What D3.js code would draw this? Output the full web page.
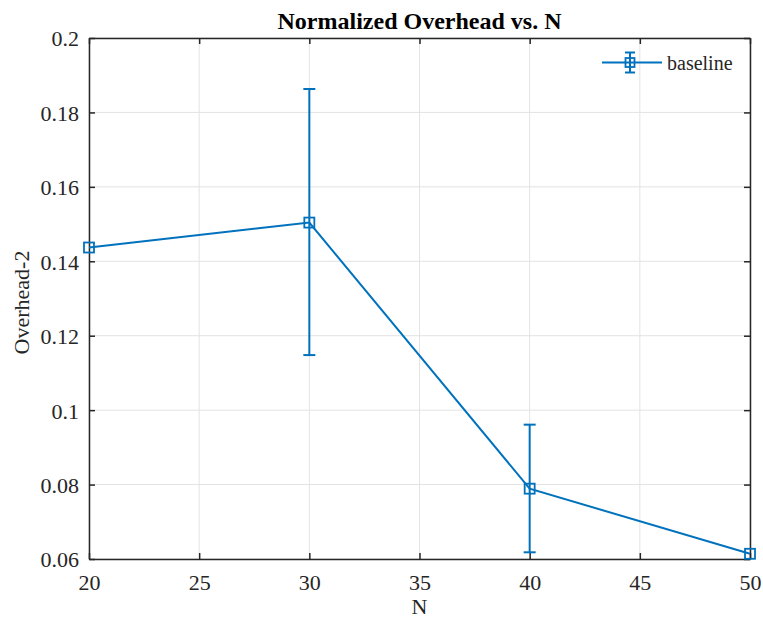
<!DOCTYPE html>
<html>
<head>
<meta charset="utf-8">
<script src="https://cdn.jsdelivr.net/npm/d3@7"></script>
</head>
<body style="margin:0;background:#fff">
<svg id="chart" style="display:block"></svg>
<script>
const nValues = [20, 30, 40, 50];
const overhead = [0.1437, 0.1504, 0.0789, 0.0614];
const errLow = [0, 0.0356, 0.0171, 0];
const errHigh = [0, 0.0359, 0.0172, 0];
const xTicks = [20, 25, 30, 35, 40, 45, 50];
const yTicks = [0.06, 0.08, 0.1, 0.12, 0.14, 0.16, 0.18, 0.2];
const seriesName = "baseline";

const width = 763;
const height = 621;
const margin = { top: 38, right: 13, bottom: 62, left: 89 };
const innerWidth = width - margin.left - margin.right;
const innerHeight = height - margin.top - margin.bottom;
const blue = "#0072BD";
const axisColor = "#262626";
const serif = '"Liberation Serif"';

const svg = d3.select("#chart").attr("width", width).attr("height", height)
  .style("font-family", serif);

const x = d3.scaleLinear().domain([20, 50]).range([0, innerWidth]);
const y = d3.scaleLinear().domain([0.06, 0.2]).range([innerHeight, 0]);

const g = svg.append("g").attr("transform", `translate(${margin.left},${margin.top})`);

// grid
g.selectAll(".gx").data(xTicks).enter().append("line")
  .attr("x1", d => x(d)).attr("x2", d => x(d))
  .attr("y1", 0).attr("y2", innerHeight)
  .attr("stroke", "#e3e3e3").attr("stroke-width", 1);
g.selectAll(".gy").data(yTicks).enter().append("line")
  .attr("x1", 0).attr("x2", innerWidth)
  .attr("y1", d => y(d)).attr("y2", d => y(d))
  .attr("stroke", "#e3e3e3").attr("stroke-width", 1);

// axes with inward ticks
const tick = 6;
const xAxis = g.append("g").attr("transform", `translate(0,${innerHeight})`)
  .call(d3.axisBottom(x).tickValues(xTicks).tickSizeInner(-tick).tickSizeOuter(0).tickFormat(d3.format("d")));
const xTop = g.append("g")
  .call(d3.axisTop(x).tickValues(xTicks).tickSizeInner(-tick).tickSizeOuter(0).tickFormat(""));
const yAxis = g.append("g")
  .call(d3.axisLeft(y).tickValues(yTicks).tickSizeInner(-tick).tickSizeOuter(0).tickPadding(10).tickFormat(d => String(+d.toFixed(2))));
const yRight = g.append("g").attr("transform", `translate(${innerWidth},0)`)
  .call(d3.axisRight(y).tickValues(yTicks).tickSizeInner(-tick).tickSizeOuter(0).tickFormat(""));

xTop.selectAll(".tick text").remove();
yRight.selectAll(".tick text").remove();

[xAxis, xTop, yAxis, yRight].forEach(a => {
  a.attr("font-family", null).attr("font-size", null);
  a.select(".domain").attr("stroke", axisColor).attr("stroke-width", 1.5);
  a.selectAll(".tick line").attr("stroke", axisColor).attr("stroke-width", 1.5);
  a.selectAll("text").attr("fill", axisColor)
    .style("font-family", serif).style("font-size", "22px");
});
xAxis.selectAll(".tick text").attr("y", 30.5).attr("dy", null);
yAxis.selectAll(".tick text").attr("dy", "0.36em");

// line
const line = d3.line().x(d => x(d.n)).y(d => y(d.v));
const pts = nValues.map((n, i) => ({ n: n, v: overhead[i], lo: errLow[i], hi: errHigh[i] }));

g.append("path").datum(pts)
  .attr("d", line).attr("fill", "none")
  .attr("stroke", blue).attr("stroke-width", 2);

// error bars
const cap = 6;
const eb = g.selectAll(".eb").data(pts.filter(d => d.lo > 0 || d.hi > 0)).enter().append("g");
eb.append("line")
  .attr("x1", d => x(d.n)).attr("x2", d => x(d.n))
  .attr("y1", d => y(d.v - d.lo)).attr("y2", d => y(d.v + d.hi))
  .attr("stroke", blue).attr("stroke-width", 2);
eb.append("line")
  .attr("x1", d => x(d.n) - cap).attr("x2", d => x(d.n) + cap)
  .attr("y1", d => y(d.v + d.hi)).attr("y2", d => y(d.v + d.hi))
  .attr("stroke", blue).attr("stroke-width", 2);
eb.append("line")
  .attr("x1", d => x(d.n) - cap).attr("x2", d => x(d.n) + cap)
  .attr("y1", d => y(d.v - d.lo)).attr("y2", d => y(d.v - d.lo))
  .attr("stroke", blue).attr("stroke-width", 2);

// markers
const ms = 10;
g.selectAll(".mk").data(pts).enter().append("rect")
  .attr("x", d => x(d.n) - ms / 2).attr("y", d => y(d.v) - ms / 2)
  .attr("width", ms).attr("height", ms)
  .attr("fill", "none").attr("stroke", blue).attr("stroke-width", 1.8);

// legend
const lg = g.append("g").attr("transform", `translate(${513},${24.5})`);
lg.append("line").attr("x1", 0).attr("x2", 60).attr("y1", 0).attr("y2", 0)
  .attr("stroke", blue).attr("stroke-width", 2);
lg.append("line").attr("x1", 28).attr("x2", 28).attr("y1", -10).attr("y2", 10)
  .attr("stroke", blue).attr("stroke-width", 2);
lg.append("line").attr("x1", 23).attr("x2", 33).attr("y1", -10).attr("y2", -10)
  .attr("stroke", blue).attr("stroke-width", 2);
lg.append("line").attr("x1", 23).attr("x2", 33).attr("y1", 10).attr("y2", 10)
  .attr("stroke", blue).attr("stroke-width", 2);
lg.append("rect").attr("x", 23.5).attr("y", -4.5).attr("width", 9).attr("height", 9)
  .attr("fill", "none").attr("stroke", blue).attr("stroke-width", 1.8);
lg.append("text").attr("x", 65).attr("y", 7)
  .attr("fill", axisColor).style("font-family", serif).style("font-size", "20px").text(seriesName);

// title and labels
svg.append("text")
  .attr("x", margin.left + innerWidth / 2).attr("y", 29)
  .attr("text-anchor", "middle").attr("fill", "#000")
  .style("font-family", serif).style("font-size", "24px").style("font-weight", "bold")
  .text("Normalized Overhead vs. N");

svg.append("text")
  .attr("x", margin.left + innerWidth / 2).attr("y", 614)
  .attr("text-anchor", "middle").attr("fill", axisColor)
  .style("font-family", serif).style("font-size", "22px").text("N");

svg.append("text")
  .attr("transform", `translate(29,${margin.top + innerHeight / 2 + 4}) rotate(-90)`)
  .attr("text-anchor", "middle").attr("fill", axisColor)
  .style("font-family", serif).style("font-size", "22px").text("Overhead-2");
</script>
</body>
</html>
